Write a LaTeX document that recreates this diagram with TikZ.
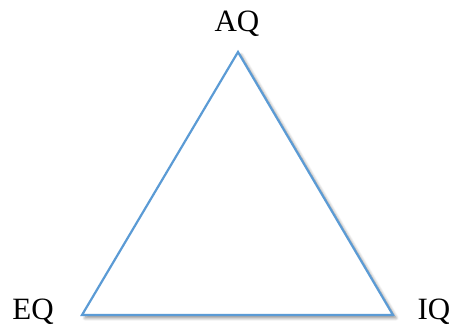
\documentclass[tikz,border=0pt]{standalone}
\usepackage{fontspec}
\setmainfont{Liberation Serif}
\usetikzlibrary{positioning,shadows.blur}
\definecolor{triblue}{RGB}{91,155,213}
\tikzset{
    edge/.style={draw=triblue, line width=2.2pt, line join=miter, fill=white,
        blur shadow={shadow xshift=3pt, shadow yshift=-3pt, shadow blur steps=8, shadow blur radius=3pt, shadow opacity=45}},
    corner/.style={font=\fontsize{31}{34}\selectfont, inner sep=0pt, anchor=base}
}
\begin{document}
\begin{tikzpicture}[x=1pt, y=1pt]
    \useasboundingbox (0,0) rectangle (449,326);
    % corners of the triangle
    \coordinate (top) at (238,274);
    \coordinate (left) at (82,11);
    \coordinate (right) at (393,11);
    \path[edge] (top) -- (left) -- (right) -- cycle;
    % labels
    \node[corner] (aq) at (237,294) {AQ};
    \node[corner] (eq) at (33,6) {EQ};
    \node[corner] (iq) at (434,6) {IQ};
\end{tikzpicture}
\end{document}
